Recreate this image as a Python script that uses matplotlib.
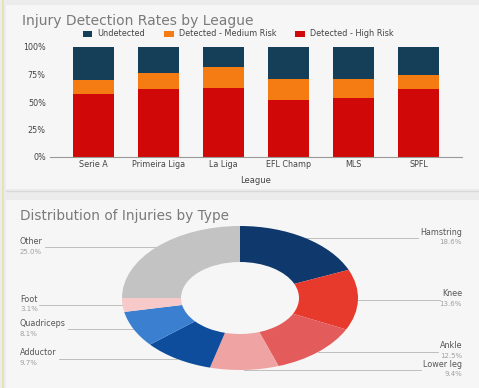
import matplotlib
matplotlib.use("Agg")
import matplotlib.pyplot as plt
import numpy as np
from matplotlib.patches import Rectangle
from matplotlib.lines import Line2D

# ---------------- data ----------------
leagues = ["Serie A", "Primeira Liga", "La Liga", "EFL Champ", "MLS", "SPFL"]
high_risk = [57, 61.5, 63, 52, 54, 62]
medium_risk = [13, 15, 18.5, 19, 17, 12.5]
undetected = [30, 23.5, 18.5, 29, 29, 25.5]
series_names = ["Undetected", "Detected - Medium Risk", "Detected - High Risk"]
y_ticks = [0, 25, 50, 75, 100]

injury_types = ["Hamstring", "Knee", "Ankle", "Lower leg", "Adductor",
                "Quadriceps", "Foot", "Other"]
injury_share = [18.6, 13.6, 12.5, 9.4, 9.7, 8.1, 3.1, 25.0]

# ---------------- style ----------------
W, H = 479, 388
fig = plt.figure(figsize=(W / 100, H / 100), dpi=100)
fig.patch.set_facecolor("#ececec")
plt.rcParams["font.family"] = ["DejaVu Sans"]

def fx(px):
    return px / W

def fy(py):
    return 1 - py / H

# cards
fig.patches.append(Rectangle((fx(6), fy(189)), fx(473), 184 / H, transform=fig.transFigure,
                             facecolor="#f6f6f6", edgecolor="none", zorder=-5))
fig.patches.append(Rectangle((fx(6), 0), fx(473), fy(200), transform=fig.transFigure,
                             facecolor="#f6f6f6", edgecolor="none", zorder=-5))
fig.lines.append(Line2D([fx(3), fx(3)], [0, 1], transform=fig.transFigure,
                        color="#e6e0a4", lw=1.2, zorder=-4))
fig.lines.append(Line2D([fx(6), 1], [fy(191), fy(191)], transform=fig.transFigure,
                        color="#d8d8d8", lw=1.0, zorder=-4))

c_und = "#153f58"
c_med = "#f57c12"
c_high = "#d00808"

# ---------------- top: stacked bars ----------------
ax = fig.add_axes([fx(50), fy(157), fx(412), 110 / H])
ax.set_facecolor("none")
x = np.arange(len(leagues))
bw = 0.63
hr = np.array(high_risk)
mr = np.array(medium_risk)
ud = np.array(undetected)
ax.bar(x, hr, bw, color=c_high, label=series_names[2], zorder=2)
ax.bar(x, mr, bw, bottom=hr, color=c_med, label=series_names[1], zorder=2)
ax.bar(x, ud, bw, bottom=hr + mr, color=c_und, label=series_names[0], zorder=2)
ax.set_xlim(-0.67, 5.67)
ax.set_ylim(0, 100)
ax.set_yticks(y_ticks)
ax.set_yticklabels([f"{v}%" for v in y_ticks])
ax.set_xticks(x)
ax.set_xticklabels(leagues)
ax.tick_params(axis="both", length=0, labelsize=5.8, colors="#444444", pad=3)
ax.tick_params(axis="x", pad=2)
for s in ["top", "right", "left"]:
    ax.spines[s].set_visible(False)
ax.spines["bottom"].set_color("#9a9a9a")
ax.spines["bottom"].set_linewidth(0.8)
ax.set_xlabel("League", fontsize=6, color="#444444", labelpad=5)

handles, labels = ax.get_legend_handles_labels()
order = [2, 1, 0]
fig.legend([handles[i] for i in order], [labels[i] for i in order],
           loc="center", bbox_to_anchor=(fx(238), fy(34)), ncol=3, frameon=False,
           fontsize=5.9, handlelength=1.2, handleheight=0.8, columnspacing=2.3,
           handletextpad=0.6, labelcolor="#444444")

fig.text(fx(22), fy(21), "Injury Detection Rates by League", fontsize=10,
         color="#7a7a7a", va="center", ha="left")

# ---------------- bottom: donut ----------------
fig.text(fx(20), fy(216), "Distribution of Injuries by Type", fontsize=9.8,
         color="#7a7a7a", va="center", ha="left")

pie_colors = ["#0f386c", "#e8392d", "#e35b5b", "#f0a3a3", "#0e4c9c",
              "#3b80d0", "#f7c9c9", "#c3c3c3"]
pax = fig.add_axes([0, 0, 1, fy(200)])
pax.set_facecolor("none")
wedges, _ = pax.pie(injury_share, colors=pie_colors, startangle=90, counterclock=False,
                    radius=1.0, wedgeprops=dict(width=0.5, edgecolor="none"))
pax.set_aspect("auto")
cx, cy, rx, ry = 240, 298, 118, 72
pax.set_xlim(-cx / rx, (W - cx) / rx)
pax.set_ylim((cy - H) / ry, (cy - 200) / ry)
pax.axis("off")

fig.canvas.draw()
renderer = fig.canvas.get_renderer()
inv = pax.transData.inverted()
left_edge = (20 - cx) / rx
right_edge = (462 - cx) / rx
for w, name, val in zip(wedges, injury_types, injury_share):
    ang = np.deg2rad((w.theta1 + w.theta2) / 2)
    px, py = np.cos(ang), np.sin(ang)
    if px >= 0:
        t = pax.text(right_edge, py + 0.02, name, ha="right", va="bottom",
                     fontsize=5.8, color="#555555")
        pax.text(right_edge, py - 0.02, f"{val:.1f}%", ha="right", va="top",
                 fontsize=5, color="#a0a0a0")
        bb = t.get_window_extent(renderer)
        x_end = inv.transform((bb.x0 - 2, 0))[0]
    else:
        t = pax.text(left_edge, py + 0.02, name, ha="left", va="bottom",
                     fontsize=5.8, color="#555555")
        pax.text(left_edge, py - 0.02, f"{val:.1f}%", ha="left", va="top",
                 fontsize=5, color="#a0a0a0")
        bb = t.get_window_extent(renderer)
        x_end = inv.transform((bb.x1 + 2, 0))[0]
    pax.plot([px, x_end], [py, py], color="#b5b5b5", lw=0.6, zorder=0)

fig.savefig("out.png", dpi=100, facecolor=fig.get_facecolor())
